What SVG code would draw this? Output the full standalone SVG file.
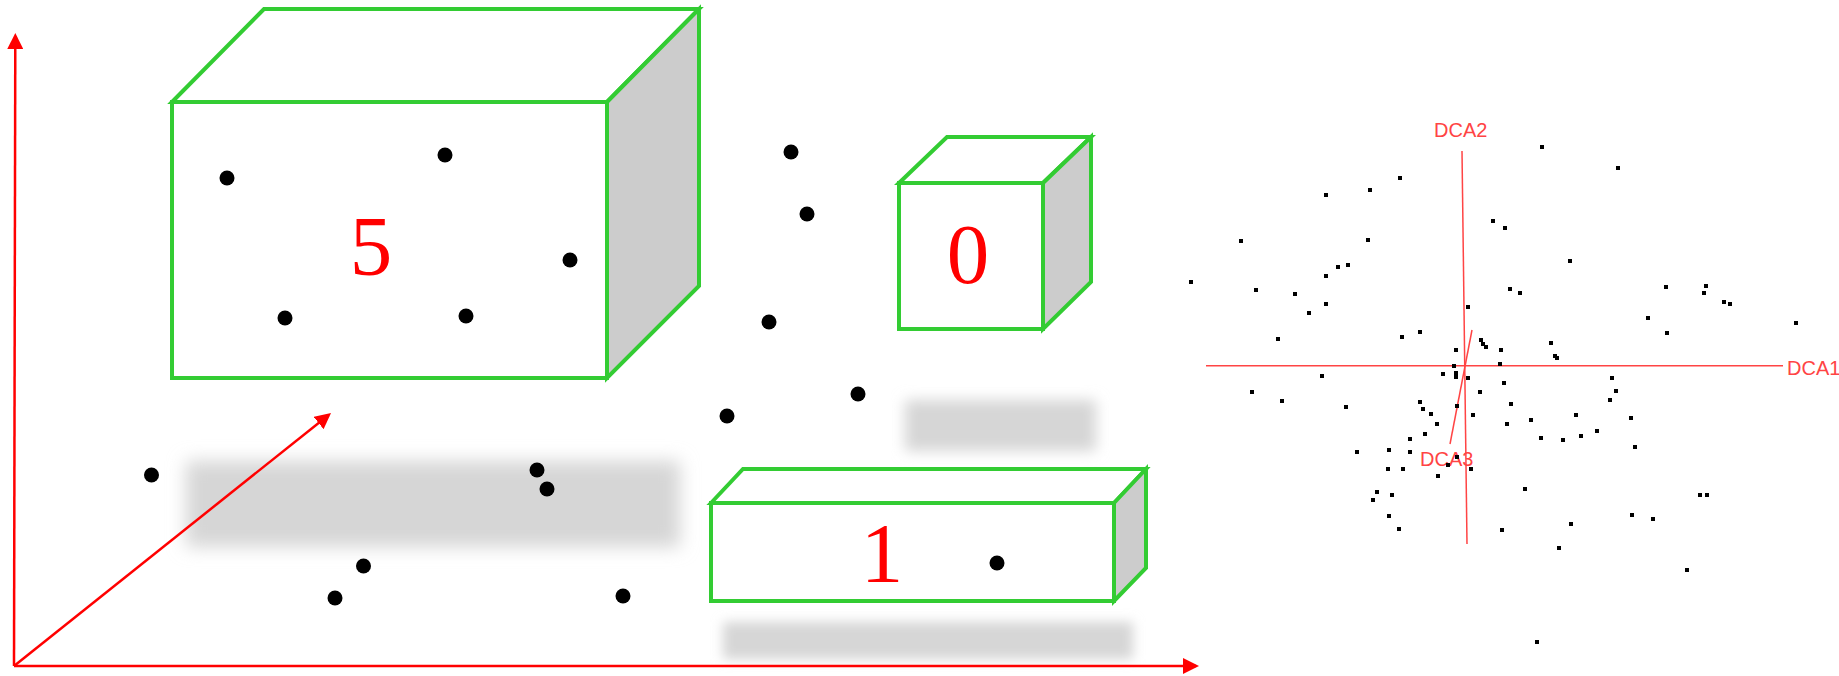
<svg xmlns="http://www.w3.org/2000/svg" width="1839" height="676" viewBox="0 0 1839 676">
<style>
.face{fill:#fff;stroke:#3c3;stroke-width:4;stroke-linejoin:miter}
.side{fill:#ccc;stroke:#3c3;stroke-width:4;stroke-linejoin:miter}
.num{font-family:"Liberation Serif","Times New Roman",serif;font-size:85px;fill:#f00;text-anchor:middle}
.axis{stroke:#f00;stroke-width:2.5;fill:none}
.blob{fill:#d6d6d6}
.dot{fill:#000}
.sq{fill:#000}
.dca{stroke:#f44;stroke-width:1.5;fill:none}
.dcat{font-family:"Liberation Sans",Arial,sans-serif;font-size:20px;fill:#f44}
</style>
<defs>
<marker id="ah" markerUnits="userSpaceOnUse" markerWidth="16" markerHeight="16" refX="13" refY="8" orient="auto">
<path d="M0,0 L16,8 L0,16 z" fill="#f00"/>
</marker>
<filter id="bl1" x="-20%" y="-60%" width="140%" height="220%"><feGaussianBlur stdDeviation="9"/></filter>
<filter id="bl2" x="-30%" y="-100%" width="160%" height="300%"><feGaussianBlur stdDeviation="7"/></filter>
<filter id="bl3" x="-20%" y="-120%" width="140%" height="340%"><feGaussianBlur stdDeviation="6"/></filter>
</defs>
<rect width="1839" height="676" fill="#fff"/>
<g id="shadows">
<rect class="blob" x="186" y="461" width="494" height="86" filter="url(#bl1)"/>
<rect class="blob" x="905" y="400" width="191" height="51" filter="url(#bl2)"/>
<rect class="blob" x="723" y="622" width="410" height="37" filter="url(#bl3)"/>
</g>
<g id="connectors">
<line class="axis" x1="14" y1="666" x2="15.3" y2="36" marker-end="url(#ah)"/>
<line class="axis" x1="14" y1="666" x2="1196" y2="666" marker-end="url(#ah)"/>
<line class="axis" x1="14" y1="666" x2="328.7" y2="414.9" marker-end="url(#ah)"/>
</g>
<g id="box5">
<polygon class="face" points="172,102 264,9 699,9 607,102"/>
<polygon class="side" points="607,102 699,9 699,286 607,378"/>
<rect class="face" x="172" y="102" width="435" height="276"/>
<text class="num" x="371" y="275">5</text>
</g>
<g id="box0">
<polygon class="face" points="899,183 947,137 1091,137 1043,183"/>
<polygon class="side" points="1043,183 1091,137 1091,282 1043,329"/>
<rect class="face" x="899" y="183" width="144" height="146"/>
<text class="num" x="968" y="283">0</text>
</g>
<g id="box1">
<polygon class="face" points="711,503 743,469 1146,469 1114,503"/>
<polygon class="side" points="1114,503 1146,469 1146,568 1114,601"/>
<rect class="face" x="711" y="503" width="403" height="98"/>
<text class="num" x="882" y="582">1</text>
</g>
<g id="points">
<circle class="dot" cx="227" cy="178" r="7.5"/>
<circle class="dot" cx="445" cy="155" r="7.5"/>
<circle class="dot" cx="570" cy="260" r="7.5"/>
<circle class="dot" cx="285" cy="318" r="7.5"/>
<circle class="dot" cx="466" cy="316" r="7.5"/>
<circle class="dot" cx="791" cy="152" r="7.5"/>
<circle class="dot" cx="807" cy="214" r="7.5"/>
<circle class="dot" cx="769" cy="322" r="7.5"/>
<circle class="dot" cx="727" cy="416" r="7.5"/>
<circle class="dot" cx="858" cy="394" r="7.5"/>
<circle class="dot" cx="151.5" cy="475" r="7.5"/>
<circle class="dot" cx="537" cy="470" r="7.5"/>
<circle class="dot" cx="547" cy="489" r="7.5"/>
<circle class="dot" cx="363.5" cy="566" r="7.5"/>
<circle class="dot" cx="335" cy="598" r="7.5"/>
<circle class="dot" cx="623" cy="596" r="7.5"/>
<circle class="dot" cx="997" cy="563" r="7.5"/>
</g>
<g id="dca-plot">
<line class="dca" x1="1206" y1="365.7" x2="1783" y2="365.7"/>
<line class="dca" x1="1462" y1="151" x2="1467" y2="544"/>
<line class="dca" x1="1472" y1="330" x2="1450" y2="444"/>
<text class="dcat" x="1434" y="137">DCA2</text>
<text class="dcat" x="1787" y="375">DCA1</text>
<text class="dcat" x="1420" y="466">DCA3</text>
<g id="scores">
<rect class="sq" x="1540" y="145" width="4" height="4"/>
<rect class="sq" x="1616" y="166" width="4" height="4"/>
<rect class="sq" x="1398" y="176" width="4" height="4"/>
<rect class="sq" x="1368" y="188" width="4" height="4"/>
<rect class="sq" x="1324" y="193" width="4" height="4"/>
<rect class="sq" x="1491" y="219" width="4" height="4"/>
<rect class="sq" x="1503" y="226" width="4" height="4"/>
<rect class="sq" x="1239" y="239" width="4" height="4"/>
<rect class="sq" x="1366" y="238" width="4" height="4"/>
<rect class="sq" x="1568" y="259" width="4" height="4"/>
<rect class="sq" x="1346" y="263" width="4" height="4"/>
<rect class="sq" x="1336" y="265" width="4" height="4"/>
<rect class="sq" x="1324" y="274" width="4" height="4"/>
<rect class="sq" x="1189" y="280" width="4" height="4"/>
<rect class="sq" x="1254" y="288" width="4" height="4"/>
<rect class="sq" x="1293" y="292" width="4" height="4"/>
<rect class="sq" x="1508" y="287" width="4" height="4"/>
<rect class="sq" x="1518" y="291" width="4" height="4"/>
<rect class="sq" x="1664" y="285" width="4" height="4"/>
<rect class="sq" x="1704" y="284" width="4" height="4"/>
<rect class="sq" x="1702" y="291" width="4" height="4"/>
<rect class="sq" x="1722" y="300" width="4" height="4"/>
<rect class="sq" x="1728" y="302" width="4" height="4"/>
<rect class="sq" x="1324" y="302" width="4" height="4"/>
<rect class="sq" x="1307" y="311" width="4" height="4"/>
<rect class="sq" x="1466" y="305" width="4" height="4"/>
<rect class="sq" x="1646" y="316" width="4" height="4"/>
<rect class="sq" x="1794" y="321" width="4" height="4"/>
<rect class="sq" x="1665" y="331" width="4" height="4"/>
<rect class="sq" x="1418" y="330" width="4" height="4"/>
<rect class="sq" x="1400" y="335" width="4" height="4"/>
<rect class="sq" x="1276" y="337" width="4" height="4"/>
<rect class="sq" x="1479" y="338" width="4" height="4"/>
<rect class="sq" x="1481" y="342" width="4" height="4"/>
<rect class="sq" x="1484" y="345" width="4" height="4"/>
<rect class="sq" x="1549" y="341" width="4" height="4"/>
<rect class="sq" x="1454" y="348" width="4" height="4"/>
<rect class="sq" x="1499" y="348" width="4" height="4"/>
<rect class="sq" x="1553" y="354" width="4" height="4"/>
<rect class="sq" x="1555" y="356" width="4" height="4"/>
<rect class="sq" x="1452" y="364" width="4" height="4"/>
<rect class="sq" x="1498" y="362" width="4" height="4"/>
<rect class="sq" x="1320" y="374" width="4" height="4"/>
<rect class="sq" x="1441" y="372" width="4" height="4"/>
<rect class="sq" x="1454" y="371" width="4" height="4"/>
<rect class="sq" x="1454" y="375" width="4" height="4"/>
<rect class="sq" x="1466" y="376" width="4" height="4"/>
<rect class="sq" x="1610" y="376" width="4" height="4"/>
<rect class="sq" x="1502" y="381" width="4" height="4"/>
<rect class="sq" x="1250" y="390" width="4" height="4"/>
<rect class="sq" x="1478" y="390" width="4" height="4"/>
<rect class="sq" x="1614" y="389" width="4" height="4"/>
<rect class="sq" x="1280" y="399" width="4" height="4"/>
<rect class="sq" x="1344" y="405" width="4" height="4"/>
<rect class="sq" x="1418" y="400" width="4" height="4"/>
<rect class="sq" x="1421" y="407" width="4" height="4"/>
<rect class="sq" x="1429" y="412" width="4" height="4"/>
<rect class="sq" x="1435" y="422" width="4" height="4"/>
<rect class="sq" x="1423" y="432" width="4" height="4"/>
<rect class="sq" x="1408" y="437" width="4" height="4"/>
<rect class="sq" x="1355" y="450" width="4" height="4"/>
<rect class="sq" x="1387" y="448" width="4" height="4"/>
<rect class="sq" x="1408" y="450" width="4" height="4"/>
<rect class="sq" x="1455" y="455" width="4" height="4"/>
<rect class="sq" x="1446" y="463" width="4" height="4"/>
<rect class="sq" x="1469" y="467" width="4" height="4"/>
<rect class="sq" x="1386" y="467" width="4" height="4"/>
<rect class="sq" x="1401" y="467" width="4" height="4"/>
<rect class="sq" x="1436" y="474" width="4" height="4"/>
<rect class="sq" x="1375" y="490" width="4" height="4"/>
<rect class="sq" x="1371" y="498" width="4" height="4"/>
<rect class="sq" x="1390" y="493" width="4" height="4"/>
<rect class="sq" x="1387" y="514" width="4" height="4"/>
<rect class="sq" x="1397" y="527" width="4" height="4"/>
<rect class="sq" x="1509" y="402" width="4" height="4"/>
<rect class="sq" x="1455" y="404" width="4" height="4"/>
<rect class="sq" x="1471" y="413" width="4" height="4"/>
<rect class="sq" x="1505" y="422" width="4" height="4"/>
<rect class="sq" x="1529" y="418" width="4" height="4"/>
<rect class="sq" x="1574" y="413" width="4" height="4"/>
<rect class="sq" x="1539" y="436" width="4" height="4"/>
<rect class="sq" x="1561" y="438" width="4" height="4"/>
<rect class="sq" x="1579" y="434" width="4" height="4"/>
<rect class="sq" x="1595" y="429" width="4" height="4"/>
<rect class="sq" x="1608" y="398" width="4" height="4"/>
<rect class="sq" x="1629" y="416" width="4" height="4"/>
<rect class="sq" x="1633" y="445" width="4" height="4"/>
<rect class="sq" x="1523" y="487" width="4" height="4"/>
<rect class="sq" x="1500" y="528" width="4" height="4"/>
<rect class="sq" x="1569" y="522" width="4" height="4"/>
<rect class="sq" x="1557" y="546" width="4" height="4"/>
<rect class="sq" x="1630" y="513" width="4" height="4"/>
<rect class="sq" x="1651" y="517" width="4" height="4"/>
<rect class="sq" x="1698" y="493" width="4" height="4"/>
<rect class="sq" x="1705" y="493" width="4" height="4"/>
<rect class="sq" x="1685" y="568" width="4" height="4"/>
<rect class="sq" x="1535" y="640" width="4" height="4"/>
</g>
</g>
</svg>
